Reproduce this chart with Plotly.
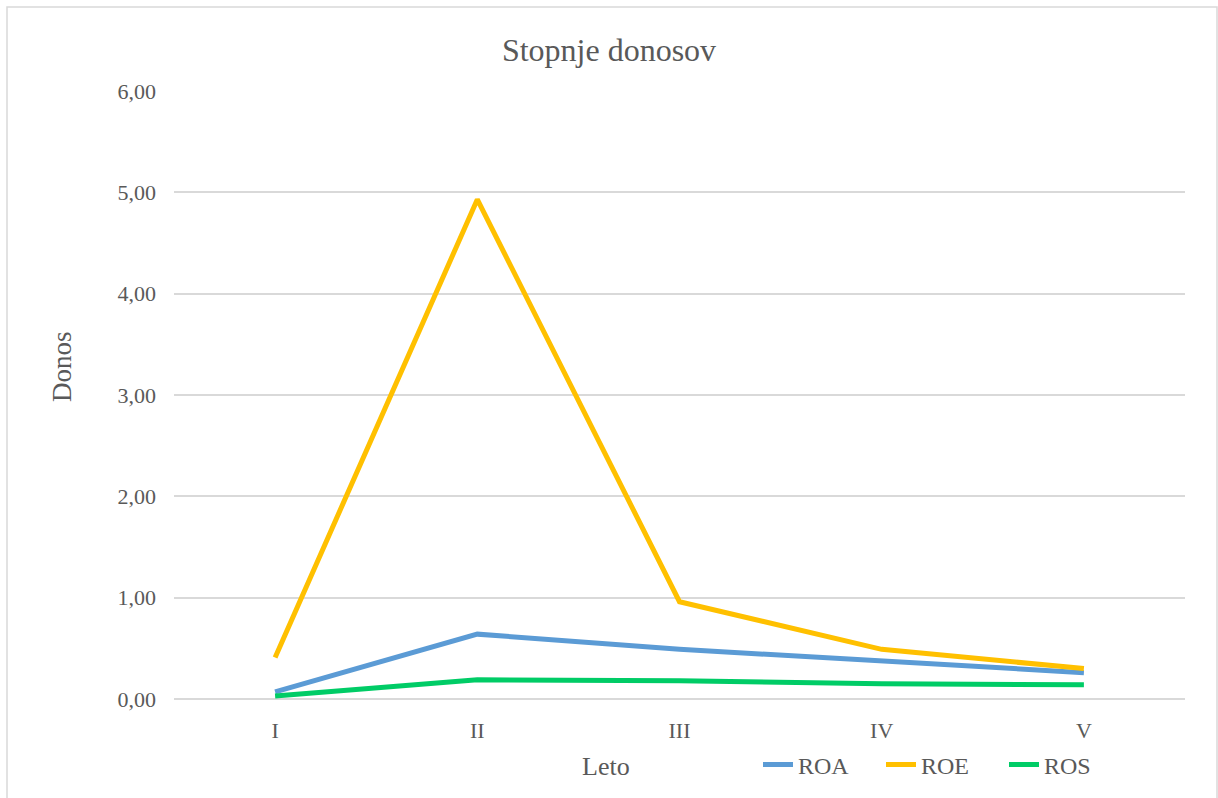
import plotly.graph_objects as go

# Years (Roman numerals) and return ratios per year
leto = ["I", "II", "III", "IV", "V"]
roa = [0.07, 0.64, 0.49, 0.37, 0.26]
roe = [0.41, 4.93, 0.96, 0.49, 0.30]
ros = [0.03, 0.19, 0.18, 0.15, 0.14]

series = [
    ("ROA", roa, "#5B9BD5"),
    ("ROE", roe, "#FFC000"),
    ("ROS", ros, "#00CC66"),
]

FONT = "Liberation Serif, Times New Roman, serif"
TEXT = "#595959"
GRID = "#D9D9D9"

fig = go.Figure()
for name, vals, color in series:
    fig.add_trace(go.Scatter(
        x=leto, y=vals, name=name, mode="lines",
        line=dict(color=color, width=5),
    ))

W, H = 1218, 798
L, R, T, B = 174, 33, 91, 99
pw, ph = W - L - R, H - T - B

def px_x(p):
    return (p - L) / pw

def px_y(p):
    return (H - B - p) / ph

fig.update_layout(
    width=W, height=H,
    margin=dict(l=L, r=R, t=T, b=B, autoexpand=False),
    paper_bgcolor="white", plot_bgcolor="white",
    separators=", ",
    font=dict(family=FONT, color=TEXT, size=22),
    title=dict(text="Stopnje donosov", x=0.5, xref="container", xanchor="center",
               y=1 - 50 / H, yref="container", yanchor="middle",
               font=dict(size=32, color=TEXT, family=FONT)),
    xaxis=dict(
        type="category", range=[-0.5, len(leto) - 0.5],
        showgrid=False, showline=False, zeroline=False,
        ticks="", ticklabelstandoff=16,
        tickfont=dict(size=22, color=TEXT),
    ),
    yaxis=dict(
        range=[0, 6], dtick=1, tickformat=".2f",
        showgrid=True, gridcolor=GRID, gridwidth=1.5,
        zeroline=True, zerolinecolor=GRID, zerolinewidth=1.5,
        showline=False, ticks="", ticklabelstandoff=17,
        tickfont=dict(size=22, color=TEXT),
    ),
    legend=dict(
        orientation="h", xref="container", yref="container",
        x=758 / W, y=1 - 765 / H, xanchor="left", yanchor="middle",
        font=dict(size=24, color=TEXT, family=FONT),
        bgcolor="rgba(0,0,0,0)", entrywidth=78, entrywidthmode="pixels",
    ),
    annotations=[
        dict(text="Leto", xref="paper", yref="paper", x=px_x(606), y=px_y(766),
             xanchor="center", yanchor="middle", showarrow=False,
             font=dict(size=26, color=TEXT, family=FONT)),
        dict(text="Donos", xref="paper", yref="paper", x=px_x(62), y=px_y(367),
             xanchor="center", yanchor="middle", showarrow=False, textangle=-90,
             font=dict(size=27, color=TEXT, family=FONT)),
    ],
    shapes=[dict(
        type="rect", xref="paper", yref="paper",
        x0=px_x(7), x1=px_x(1217), y0=px_y(810), y1=px_y(7),
        line=dict(color=GRID, width=1.5), fillcolor="rgba(0,0,0,0)", layer="below",
    )],
)

fig.write_html("out.html")
